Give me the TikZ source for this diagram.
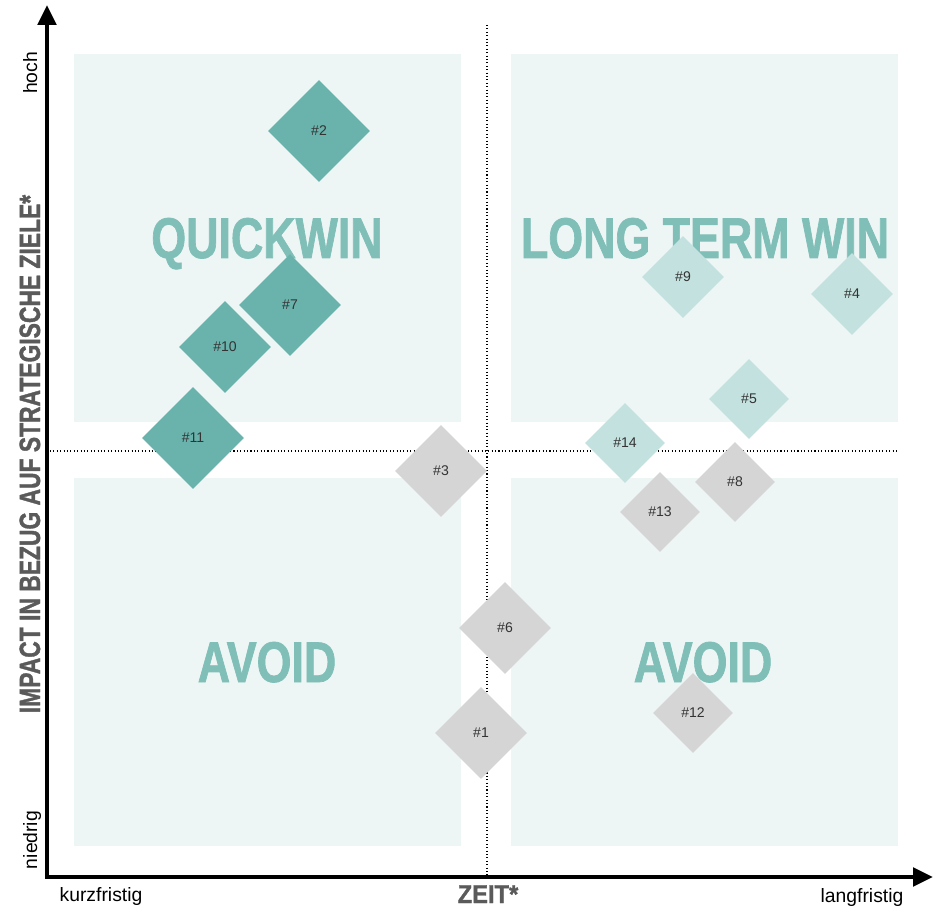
\documentclass[tikz,border=0pt]{standalone}
\usepackage{fontspec}
\setmainfont{Liberation Sans}
\newfontfamily\condfont{Liberation Sans}[UprightFont=* Bold, FakeStretch=0.78, FakeBold=1.2]
\newfontfamily\zeitfont{Liberation Sans}[UprightFont=* Bold, FakeStretch=0.92, FakeBold=1.2]
\usetikzlibrary{shapes.geometric,arrows.meta}
\definecolor{quadbg}{HTML}{EEF6F5}
\definecolor{wintext}{HTML}{80BFB8}
\definecolor{darkteal}{HTML}{6AB3AD}
\definecolor{lightteal}{HTML}{C3E1DF}
\definecolor{greydia}{HTML}{D5D5D5}
\definecolor{axislabel}{HTML}{5A5A5A}
\definecolor{numtext}{HTML}{333333}
\begin{document}
\begin{tikzpicture}[x=0.03cm, y=-0.03cm, line join=miter,
    >={Triangle[length=0.6cm, width=0.55cm]},
    axis/.style={line width=3.6pt, black},
    guide/.style={dotted, line width=0.9pt, black},
    quadlabel/.style={anchor=base, text=wintext, font=\condfont\fontsize{49}{50}\selectfont},
    endlabel/.style={anchor=base, font=\fontsize{16.5}{18}\selectfont},
    dia/.style={diamond, aspect=1, inner sep=0pt, text=numtext, font=\fontsize{12}{14}\selectfont},
    darkdia/.style={dia, fill=darkteal},
    lightdia/.style={dia, fill=lightteal},
    greydia/.style={dia, fill=greydia}]
  \useasboundingbox (0,0) rectangle (933,907);
  % quadrants
  \fill[quadbg] (74,54) rectangle (461,422);
  \fill[quadbg] (511,54) rectangle (898,422);
  \fill[quadbg] (74,478) rectangle (461,846);
  \fill[quadbg] (511,478) rectangle (898,846);
  \node[quadlabel] (qw) at (267,258) {QUICKWIN};
  \node[quadlabel] (ltw) at (705,258) {LONG TERM WIN};
  \node[quadlabel] (avl) at (267,682) {AVOID};
  \node[quadlabel] (avr) at (703,682) {AVOID};
  % dotted cross
  \coordinate (vtop) at (487,25);
  \coordinate (vbot) at (487,876);
  \coordinate (hleft) at (50,451);
  \coordinate (hright) at (897,451);
  \draw[guide] (vtop) -- (vbot);
  \draw[guide] (hleft) -- (hright);
  % axes
  \coordinate (ytip) at (47,5);
  \coordinate (xtip) at (933,877);
  \draw[axis, <->] (ytip) |- (xtip);
  \node[endlabel, rotate=90] (hoch) at (37,73) {hoch};
  \node[endlabel, rotate=90] (niedrig) at (37,840) {niedrig};
  \node[endlabel] (kurz) at (101,901) {kurzfristig};
  \node[endlabel] (lang) at (862,902) {langfristig};
  \node[anchor=base, text=axislabel, font=\zeitfont\fontsize{22}{24}\selectfont] (zeit) at (488,903) {ZEIT*};
  \node[anchor=base, rotate=90, text=axislabel, font=\condfont\fontsize{25}{26}\selectfont] (impact) at (40,454) {IMPACT IN BEZUG AUF STRATEGISCHE ZIELE*};
  % projects
  \foreach \n/\px/\py/\sz/\kind in {2/319/131/102/darkdia, 10/225/347/92/darkdia, 7/290/305/102/darkdia,
      11/193/438/102/darkdia, 3/441/471/92/greydia, 9/683/277/82/lightdia, 4/852/294/82/lightdia,
      5/749/399/80/lightdia, 14/625/443/80/lightdia, 8/735/482/80/greydia, 13/660/512/80/greydia,
      6/505/628/92/greydia, 12/693/713/80/greydia, 1/481/733/92/greydia}
    \node[\kind, minimum size=\sz*0.03cm] (d\n) at (\px,\py) {\#\n};
\end{tikzpicture}
\end{document}
